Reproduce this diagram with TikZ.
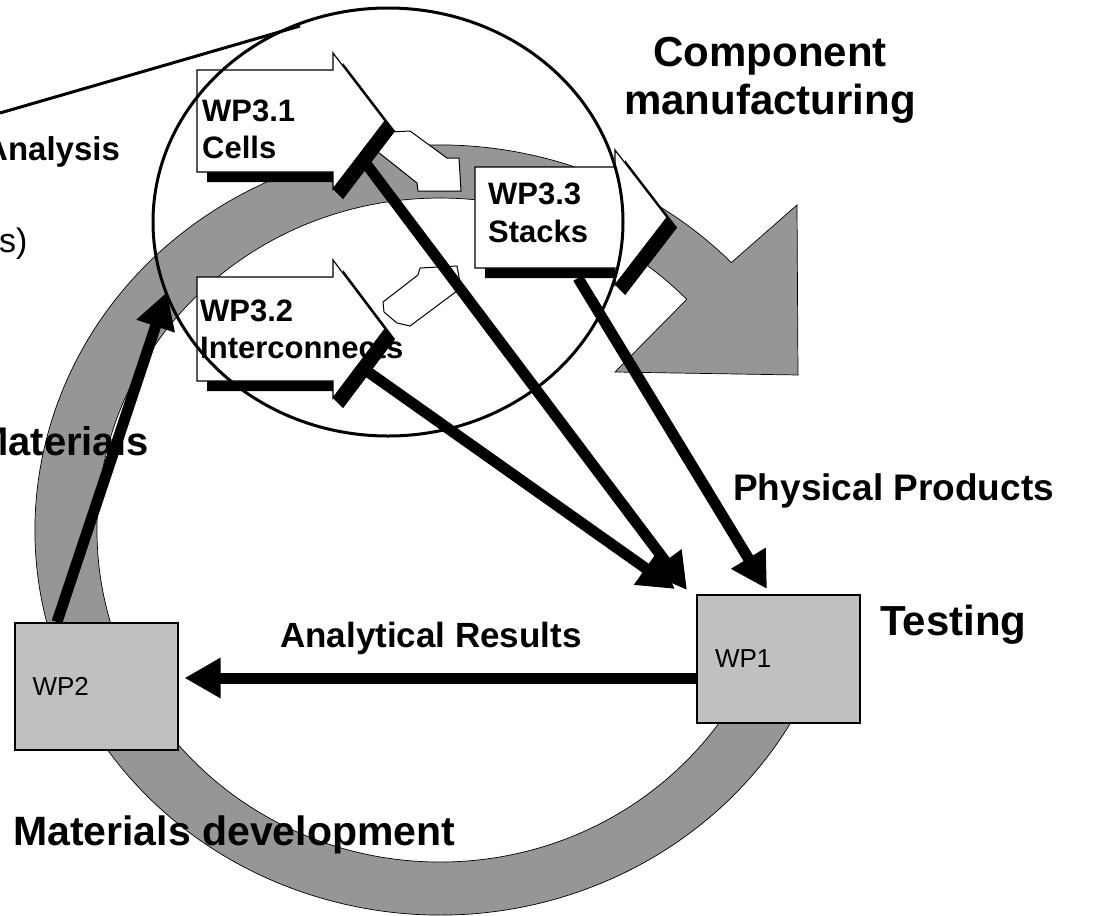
\documentclass[tikz,border=0pt]{standalone}
\usepackage{fontspec}
\setmainfont{Liberation Sans}
\usetikzlibrary{arrows.meta,calc}

\definecolor{ringgray}{RGB}{150,150,150}
\definecolor{boxgray}{RGB}{192,192,192}

\newcommand{\wpblock}[4]{%
  \fill[black,shift={(10,10)}] (#1,#2) -- (#3,#2) -- (#3,#2-17) -- (#3+52,{(#2+#4)/2}) -- (#3,#4+17) -- (#3,#4) -- (#1,#4) -- cycle;
  \filldraw[blockfill] (#1,#2) -- (#3,#2) -- (#3,#2-17) -- (#3+52,{(#2+#4)/2}) -- (#3,#4+17) -- (#3,#4) -- (#1,#4) -- cycle;}
\newcommand{\wpband}[4]{%
  \fill[black] (#3,#4+17) -- (#3+52,{(#2+#4)/2}) -- ++(10,10) -- (#3+10,#4+27) -- cycle;}

\begin{document}
\begin{tikzpicture}[x=1pt, y=-1pt,
    ring/.style={fill=ringgray, draw=black, line width=0.7pt},
    wpbox/.style={rectangle, draw=black, line width=2pt, fill=boxgray, minimum width=163pt, minimum height=128pt, text width=127pt, inner xsep=18pt, align=left, font=\fontsize{26}{30}\selectfont},
    blockfill/.style={fill=white, draw=black, line width=1.2pt},
    whiteflow/.style={fill=white, draw=black, line width=1pt},
    lens/.style={draw=black, line width=3pt},
    flow/.style={line width=11pt, -{Triangle[length=36pt, width=38pt]}},
    wptext/.style={inner sep=0pt, anchor=north west, align=left, font=\fontsize{31}{37}\selectfont\bfseries},
    bigtext/.style={inner sep=0pt, anchor=base west, font=\fontsize{42}{48}\selectfont\bfseries},
    midtext/.style={inner sep=0pt, anchor=base west, font=\fontsize{36}{40}\selectfont\bfseries}]

  \fill[white] (0,0) rectangle (1104,916);
  \useasboundingbox (0,0) rectangle (1104,916);
  \clip (0,0) rectangle (1104,916);

  \filldraw[ring] ([shift={(440,530)}]15:405 and 385) arc[start angle=15, end angle=316, x radius=405, y radius=385]
    -- (797,205) -- (798,375) -- (615,372) -- (686.7,299.4)
    arc[start angle=316, end angle=15, x radius=343, y radius=332] -- cycle;

  \node[wpbox] (wp1) at (778.5,659) {WP1};
  \node[wpbox, minimum width=162pt, minimum height=127pt] (wp2) at (96,686.5) {WP2};

  \filldraw[whiteflow] (378,152) -- (390,132) -- (410,131) -- (447,158) -- (459,158) -- (461,191) -- (418,191) -- (417,183) -- cycle;
  \filldraw[whiteflow] (420,268) -- (457,266) -- (461,288) -- (410,326) -- (397,323) -- (384,312) -- (383,302) -- (418,275) -- cycle;

  \wpblock{197}{70}{333}{172}
  \wpblock{197}{277}{333}{381}
  \wpblock{475}{167}{615}{268}

  \node[wptext] (wp31) at (202,99.5) {WP3.1\\Cells};
  \node[wptext] (wp32) at (200,299.5) {WP3.2\\Interconnects};
  \node[wptext, font=\fontsize{31}{38}\selectfont\bfseries] (wp33) at (488,182.5) {WP3.3\\Stacks};

  \node[inner sep=0pt, align=center, font=\fontsize{42}{48}\selectfont\bfseries] (compman) at (770,80) {Component\\manufacturing};
  \node[midtext, font=\fontsize{37}{40}\selectfont\bfseries] (physprod) at (733,500) {Physical Products};
  \node[bigtext] (testing) at (880,635) {Testing};
  \node[midtext, font=\fontsize{35}{40}\selectfont\bfseries] (anres) at (280,647) {Analytical Results};
  \node[bigtext, font=\fontsize{41}{46}\selectfont\bfseries] (matdev) at (13,845) {Materials development};
  \node[midtext, font=\fontsize{33}{38}\selectfont\bfseries] (analysis) at (-16,160) {Analysis};
  \node[midtext, font=\fontsize{40}{44}\selectfont\bfseries] (materials) at (-25,455) {Materials};
  \node[inner sep=0pt, anchor=base west, font=\fontsize{34}{38}\selectfont] (paren) at (-1,252) {s)};

  \draw[lens] (388,222) ellipse [x radius=235, y radius=214];
  \coordinate (callStart) at (0,113);
  \coordinate (lensTop) at (300,26);
  \draw[lens] (callStart) -- (lensTop);

  \coordinate (wp31out) at (364,161);
  \coordinate (wp32out) at (364,369);
  \coordinate (wp33out) at (578,278);
  \coordinate (matTip) at (167,292);

  \draw[flow] ([xshift=-39pt]wp2.north) -- (matTip);
  \draw[flow] ([yshift=-19pt]wp1.west) -- ([xshift=6pt,yshift=8.5pt]wp2.east);
  \draw[flow] (wp31out) -- ([xshift=-9pt,yshift=4pt]wp1.north west);
  \draw[flow] (wp32out) -- ([xshift=-21pt,yshift=5pt]wp1.north west);
  \draw[flow] (wp33out) -- ([xshift=-11.5pt,yshift=5pt]wp1.north);

  \wpband{197}{70}{333}{172}
  \wpband{197}{277}{333}{381}
  \wpband{475}{167}{615}{268}
\end{tikzpicture}
\end{document}
